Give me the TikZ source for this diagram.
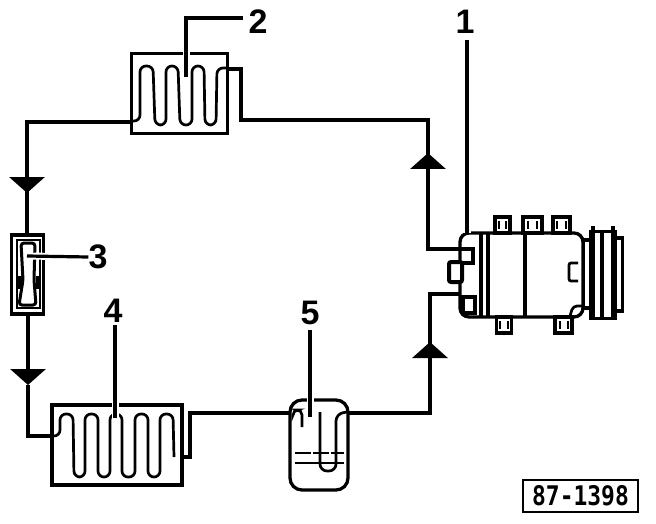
\documentclass[tikz,border=0pt]{standalone}
\usepackage{fontspec}
\setmainfont{Liberation Sans}
\newfontfamily\platefont{DejaVu Sans Mono}
\usetikzlibrary{arrows.meta,calc}

\begin{document}
\begin{tikzpicture}[
  x=1pt, y=-1pt,
  box/.style={draw, line width=3.3pt, inner sep=0pt, outer sep=0pt},
  lug/.style={box, line width=3.6pt, fill=white, minimum width=15pt, minimum height=16pt},
  num/.style={font=\fontsize{34}{34}\selectfont\bfseries, inner sep=0pt},
  pipe/.style={line width=3.6pt, line join=miter},
  coil/.style={line width=2.7pt, rounded corners=6pt},
  thin part/.style={line width=2.7pt},
  lead/.style={line width=3.2pt, preaction={draw=white, line width=7pt}},
  dirtip/.style={-{Triangle[width=35pt,length=16pt]}}
]
\useasboundingbox (0,0) rectangle (656,524);

\node[box, minimum width=96pt, minimum height=80pt] (cond) at (179.5,93.5) {};
\node[box, minimum width=32pt, minimum height=79pt] (valve) at (27.5,274.5) {};
\node[box, minimum width=130pt, minimum height=80pt] (evap) at (117,445) {};
\node[box, rounded corners=9pt, minimum width=123pt, minimum height=84pt] (comp) at (521.5,275) {};
\node[box, minimum width=24pt, minimum height=87pt] (pulley) at (603,275) {};
\node[box, minimum width=7pt, minimum height=73pt] (rim) at (619,274.5) {};
\node[box, minimum width=7pt, minimum height=68pt] (neck) at (587,274) {};
\node[box, rounded corners=12pt, minimum width=58pt, minimum height=90pt] (recv) at (319,445) {};
\node[lug] (lta) at (502.5,225) {};
\node[lug, minimum width=19pt] (ltb) at (532.5,225) {};
\node[lug, minimum width=17pt] (ltc) at (561.5,225) {};
\node[lug] (lba) at (504,325) {};
\node[lug, minimum width=17pt] (lbb) at (563.5,325) {};
\node[box, line width=4pt, minimum width=12pt, minimum height=16pt] (portb) at (469,305) {};
\node[box, line width=4pt, rounded corners=2pt, minimum width=13pt, minimum height=20pt, fill=white] (porta) at (455.5,272) {};
\node[box, line width=2.8pt, minimum width=115pt, minimum height=32pt] (plate) at (580.5,496)
  {\platefont\fontsize{27}{27}\selectfont\bfseries\scalebox{0.85}[1]{87-1398}};

\node[num] (n1) at (465,22) {1};
\node[num] (n2) at (258,22) {2};
\node[num] (n3) at (98,257) {3};
\node[num] (n4) at (113,311) {4};
\node[num] (n5) at (310,313) {5};

\coordinate (topl) at (27,122);
\coordinate (topr) at (428,120);
\coordinate (arrt) at (428,153);
\coordinate (arrl) at (27,193);
\coordinate (arrv) at (28,385);
\coordinate (arrb) at (430,342);
\coordinate (botr) at (430,413);
\coordinate (suct) at (428,249);
\coordinate (disc) at (430,294);

\draw[pipe] (cond.west |- topl) -- (topl) -- (arrl);
\draw[pipe, dirtip] (topl) -- (arrl);
\draw[pipe] (arrl) -- (valve.north -| arrl);
\draw[pipe, dirtip] (valve.south -| arrv) -- (arrv);
\draw[pipe] (arrv) -- (28,436) -- (evap.west |- 0,436);
\draw[pipe] (227,69) -- (241,69) -- (241,120) -- (topr) -- (suct) -- (473,249) -- (473,263) -- (463,263);
\draw[pipe, dirtip] (suct) -- (arrt);
\draw[pipe] (evap.east |- 0,457) -- (190,457) -- (190,413) -- (recv.west |- botr);
\draw[pipe] (recv.east |- botr) -- (botr) -- (arrb);
\draw[pipe, dirtip] (botr) -- (arrb);
\draw[pipe] (arrb) -- (disc) -- (comp.west |- disc);

\draw[coil] (133,121) -- (140,121) -- (140,66) -- (153,66) -- (155,125) -- (166,125) -- (166,66)
  -- (178,66) -- (180,125) -- (192,125) -- (192,66) -- (204,66) -- (205,125) -- (216,125)
  -- (217,68) -- (228,68);
\draw[coil] (54,436) -- (60,436) -- (60,414) -- (73,414) -- (74,477) -- (85,477) -- (85,414)
  -- (98,414) -- (98,477) -- (110,477) -- (110,414) -- (122,414) -- (122,477) -- (135,477)
  -- (135,414) -- (148,414) -- (148,477) -- (160,477) -- (160,414) -- (173,414) -- (174,457);

\draw[thin part] (17,240) rectangle (40,308);
\draw[line width=3pt, rounded corners=3pt] (21,243) -- (35,243) -- (34,280) -- (36,305)
  -- (19,305) -- (23,280) -- cycle;
\draw[line width=5pt] (19,276) -- (19,289) (38,276) -- (38,289);

\draw[line width=3.4pt] (481,233) -- (481,317);
\draw[line width=3.4pt] (488,233) -- (488,317);
\draw[line width=3.4pt] (525,233) -- (525,317);
\draw[thin part, rounded corners=2pt] (578,263) -- (569,263) -- (569,281) -- (578,281);
\draw[thin part, rounded corners=4pt] (583,306) -- (573,306) -- (570,316);
\draw[line width=4pt] (602,232) -- (602,318);
\draw[pipe] (593,226) -- (593,320) (613,226) -- (613,320);
\foreach \lx in {499,506,528,537,557,566} {
  \draw[thin part] (\lx,221) -- (\lx,229);
}
\foreach \lx in {500,508,560,568} {
  \draw[thin part] (\lx,321) -- (\lx,329);
}

\draw[thin part, rounded corners=5pt] (293,414) -- (293,410) -- (302,410) -- (302,427);
\draw[thin part, rounded corners=7pt] (320,412) -- (320,471) -- (336,471) -- (336,414) -- (347,412);
\draw[thin part, dash pattern=on 16pt off 2pt] (295,453) -- (344,453);
\draw[thin part] (295,463) -- (344,463);

\draw[lead] (467,40) -- (467,233);
\draw[lead] (186,77) -- (186,18) -- (243,18);
\draw[lead] (27,256) -- (n3.west);
\draw[lead] (115,325) -- (115,418);
\draw[lead] (310,330) -- (310,417);
\end{tikzpicture}
\end{document}
